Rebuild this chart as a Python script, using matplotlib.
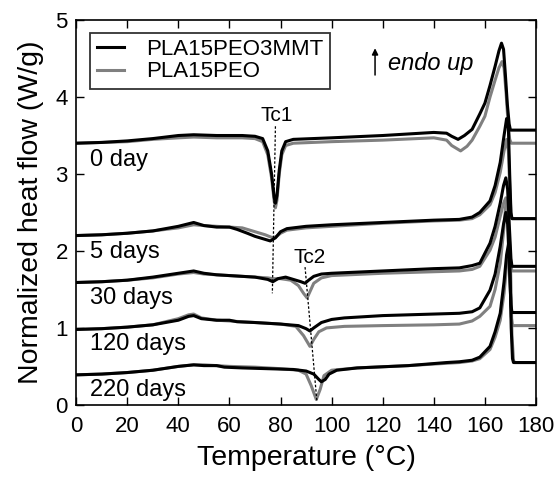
import matplotlib.pyplot as plt

plt.rcParams['font.family'] = ['Liberation Sans', 'DejaVu Sans']

# 0 day
t0_mmt = [0, 10, 20, 30, 40, 46, 55, 65, 70, 73, 75, 76.5, 77.5, 78, 78.6, 79.5, 80.5, 82, 85, 100, 120, 140, 145, 147, 149.5, 152, 155, 158, 160, 162, 164, 165.5, 166.5, 167.3, 168, 168.8, 169.5, 170, 180]
y0_mmt = [3.40, 3.41, 3.43, 3.46, 3.50, 3.51, 3.50, 3.50, 3.49, 3.46, 3.30, 3.00, 2.70, 2.62, 2.72, 3.05, 3.30, 3.42, 3.45, 3.47, 3.50, 3.54, 3.53, 3.49, 3.45, 3.50, 3.58, 3.78, 3.92, 4.15, 4.40, 4.60, 4.70, 4.62, 4.30, 3.90, 3.65, 3.57, 3.57]
t0_peo = [0, 10, 20, 30, 40, 46, 55, 65, 70, 73, 75, 76.5, 77.5, 78, 78.6, 79.5, 80.5, 82, 85, 100, 120, 140, 145, 147, 150.5, 153, 155, 158, 160, 162, 164, 165.5, 166.7, 167.5, 168.3, 169, 169.7, 170.3, 180]
y0_peo = [3.40, 3.41, 3.42, 3.45, 3.47, 3.48, 3.47, 3.47, 3.46, 3.42, 3.25, 2.95, 2.65, 2.56, 2.66, 3.00, 3.25, 3.37, 3.40, 3.42, 3.44, 3.47, 3.44, 3.37, 3.30, 3.36, 3.44, 3.62, 3.75, 4.00, 4.22, 4.38, 4.46, 4.38, 4.05, 3.70, 3.45, 3.40, 3.40]

# 5 days
t5_mmt = [0, 10, 20, 30, 40, 46, 50, 55, 60, 63, 67, 70, 74, 76, 78, 80, 82.5, 90, 100, 120, 140, 150, 155, 158, 162, 164, 166, 167.5, 168.5, 169.2, 169.7, 170.2, 170.6, 180]
y5_mmt = [2.20, 2.21, 2.23, 2.26, 2.32, 2.37, 2.33, 2.31, 2.31, 2.28, 2.23, 2.19, 2.15, 2.13, 2.17, 2.25, 2.29, 2.32, 2.34, 2.37, 2.40, 2.41, 2.44, 2.50, 2.65, 2.85, 3.15, 3.50, 3.72, 3.60, 3.00, 2.50, 2.42, 2.42]
t5_peo = [0, 10, 20, 30, 40, 46, 50, 55, 60, 65, 70, 74, 77, 78.5, 80, 82.5, 90, 100, 120, 140, 150, 155, 158, 162, 164, 166, 167.5, 168.5, 169.2, 169.7, 170.2, 170.6, 180]
y5_peo = [2.20, 2.21, 2.23, 2.26, 2.30, 2.34, 2.33, 2.32, 2.31, 2.30, 2.25, 2.21, 2.17, 2.19, 2.23, 2.27, 2.30, 2.32, 2.36, 2.39, 2.40, 2.42, 2.47, 2.60, 2.76, 3.02, 3.30, 3.45, 3.30, 2.85, 2.47, 2.42, 2.42]

# 30 days
t30_mmt = [0, 10, 20, 30, 40, 46, 50, 55, 60, 70, 75, 77, 79, 82, 85, 88, 89.6, 91, 93, 96, 100, 120, 140, 150, 155, 158, 162, 164, 166, 167.3, 168.2, 168.9, 169.6, 170.2, 170.6, 180]
y30_mmt = [1.59, 1.60, 1.62, 1.66, 1.71, 1.74, 1.71, 1.69, 1.68, 1.66, 1.63, 1.60, 1.64, 1.66, 1.63, 1.60, 1.58, 1.62, 1.67, 1.70, 1.71, 1.74, 1.77, 1.78, 1.81, 1.84, 2.10, 2.32, 2.62, 2.85, 2.95, 2.80, 2.30, 1.90, 1.80, 1.80]
t30_peo = [0, 10, 20, 30, 40, 46, 50, 55, 60, 70, 75, 77, 80, 84, 87, 89, 90.4, 91.5, 93, 96, 100, 120, 140, 150, 155, 158, 162, 164, 166, 167.3, 168.2, 168.9, 169.6, 170.2, 170.6, 180]
y30_peo = [1.59, 1.60, 1.62, 1.65, 1.70, 1.72, 1.70, 1.69, 1.68, 1.66, 1.65, 1.64, 1.64, 1.62, 1.55, 1.45, 1.39, 1.47, 1.58, 1.65, 1.68, 1.71, 1.73, 1.74, 1.76, 1.80, 2.01, 2.18, 2.45, 2.62, 2.69, 2.55, 2.15, 1.80, 1.74, 1.74]

# 120 days
t120_mmt = [0, 10, 20, 30, 40, 44, 46, 49, 55, 60, 63, 70, 80, 87, 90, 91.5, 93, 96, 100, 105, 120, 140, 150, 155, 158, 162, 164, 166, 167.3, 168.2, 168.9, 169.6, 170.2, 170.6, 180]
y120_mmt = [0.98, 0.99, 1.01, 1.04, 1.10, 1.15, 1.16, 1.12, 1.10, 1.10, 1.08, 1.07, 1.05, 1.03, 0.99, 0.96, 1.00, 1.07, 1.11, 1.13, 1.16, 1.18, 1.19, 1.21, 1.26, 1.49, 1.70, 2.06, 2.35, 2.50, 2.35, 1.80, 1.30, 1.20, 1.20]
t120_peo = [0, 10, 20, 30, 40, 44, 46, 49, 55, 60, 70, 80, 86, 89, 91.5, 93, 95, 98, 105, 120, 140, 150, 155, 158, 162, 164, 166, 167.3, 168.3, 169, 169.7, 170.3, 170.8, 180]
y120_peo = [0.98, 0.99, 1.01, 1.04, 1.12, 1.17, 1.18, 1.13, 1.10, 1.09, 1.07, 1.05, 1.02, 0.90, 0.76, 0.85, 0.95, 1.00, 1.02, 1.03, 1.04, 1.05, 1.09, 1.15, 1.28, 1.50, 1.84, 2.25, 2.65, 2.45, 1.80, 1.15, 1.03, 1.03]

# 220 days
t220_mmt = [0, 10, 20, 30, 40, 46, 50, 55, 58, 65, 75, 85, 90, 93, 95, 96, 97.5, 99, 102, 110, 130, 145, 150, 155, 158, 162, 164, 166, 167.5, 168.5, 169.3, 169.8, 170.3, 170.8, 171.2, 180]
y220_mmt = [0.39, 0.40, 0.42, 0.45, 0.50, 0.52, 0.51, 0.51, 0.49, 0.48, 0.47, 0.46, 0.44, 0.40, 0.33, 0.30, 0.33, 0.40, 0.45, 0.48, 0.51, 0.55, 0.56, 0.58, 0.62, 0.76, 0.95, 1.19, 1.60, 1.95, 2.10, 1.80, 1.00, 0.60, 0.55, 0.55]
t220_peo = [0, 10, 20, 30, 40, 46, 50, 55, 60, 70, 80, 87, 90, 92, 94, 95.5, 97, 100, 110, 130, 145, 150, 155, 158, 162, 164, 166, 167.5, 168.5, 169.5, 170.1, 170.6, 171.2, 171.6, 180]
y220_peo = [0.39, 0.40, 0.42, 0.45, 0.50, 0.52, 0.52, 0.51, 0.50, 0.49, 0.47, 0.45, 0.40, 0.25, 0.07, 0.20, 0.38, 0.45, 0.48, 0.51, 0.54, 0.55, 0.57, 0.60, 0.72, 0.88, 1.10, 1.45, 1.80, 2.00, 1.70, 0.90, 0.58, 0.55, 0.55]

day_labels = ['0 day', '5 days', '30 days', '120 days', '220 days']
label_y = [3.18, 1.99, 1.39, 0.79, 0.19]

peo_curves = [(t0_peo, y0_peo), (t5_peo, y5_peo), (t30_peo, y30_peo), (t120_peo, y120_peo), (t220_peo, y220_peo)]
mmt_curves = [(t0_mmt, y0_mmt), (t5_mmt, y5_mmt), (t30_mmt, y30_mmt), (t120_mmt, y120_mmt), (t220_mmt, y220_mmt)]

fig = plt.figure(figsize=(5.56, 4.78), dpi=100)
ax = fig.add_axes([0.137, 0.153, 0.827, 0.805])

gray = '#808080'
for i, (t, y) in enumerate(peo_curves):
    ax.plot(t, y, color=gray, lw=2.2, label='PLA15PEO' if i == 0 else None)
for i, (t, y) in enumerate(mmt_curves):
    ax.plot(t, y, color='black', lw=2.2, label='PLA15PEO3MMT' if i == 0 else None)

# dashed guide lines
ax.plot([78, 76.8], [3.62, 1.45], color='black', ls=(0, (2, 1.5)), lw=0.9)
ax.plot([89.6, 94.2], [1.79, 0.06], color='black', ls=(0, (2, 1.5)), lw=0.9)
ax.text(78.6, 3.76, 'Tc1', fontsize=15, ha='center', va='center')
ax.text(91.2, 1.92, 'Tc2', fontsize=15, ha='center', va='center')

for lab, yy in zip(day_labels, label_y):
    ax.text(5.5, yy, lab, fontsize=17, ha='left', va='center')

# endo up arrow
ax.annotate('', xy=(117, 4.67), xytext=(117, 4.25),
            arrowprops=dict(arrowstyle='-|>', color='black', lw=1.1,
                            mutation_scale=9))
ax.text(122, 4.44, 'endo up', fontsize=17, style='italic', ha='left', va='center')

h, l = ax.get_legend_handles_labels()
leg = ax.legend(h[::-1], l[::-1], loc='upper left', bbox_to_anchor=(0.016, 0.985),
                fontsize=16, frameon=True, fancybox=False, edgecolor='black',
                handlelength=1.2, handletextpad=1.0, borderpad=0.3, labelspacing=0.05,
                borderaxespad=0.3)
leg.get_frame().set_linewidth(1.3)

ax.set_xlim(0, 180)
ax.set_ylim(0, 5)
ax.set_xticks(range(0, 181, 20))
ax.set_yticks(range(0, 6))
ax.tick_params(direction='in', top=True, right=True, length=6, width=1, labelsize=16)
ax.tick_params(axis='x', pad=8)
ax.tick_params(axis='y', pad=6)
for s in ax.spines.values():
    s.set_linewidth(1.2)
ax.set_xlabel('Temperature (°C)', fontsize=20.5, labelpad=6)
ax.set_ylabel('Normalized heat flow (W/g)', fontsize=20.5, labelpad=8)

fig.savefig('out.png', dpi=100)
